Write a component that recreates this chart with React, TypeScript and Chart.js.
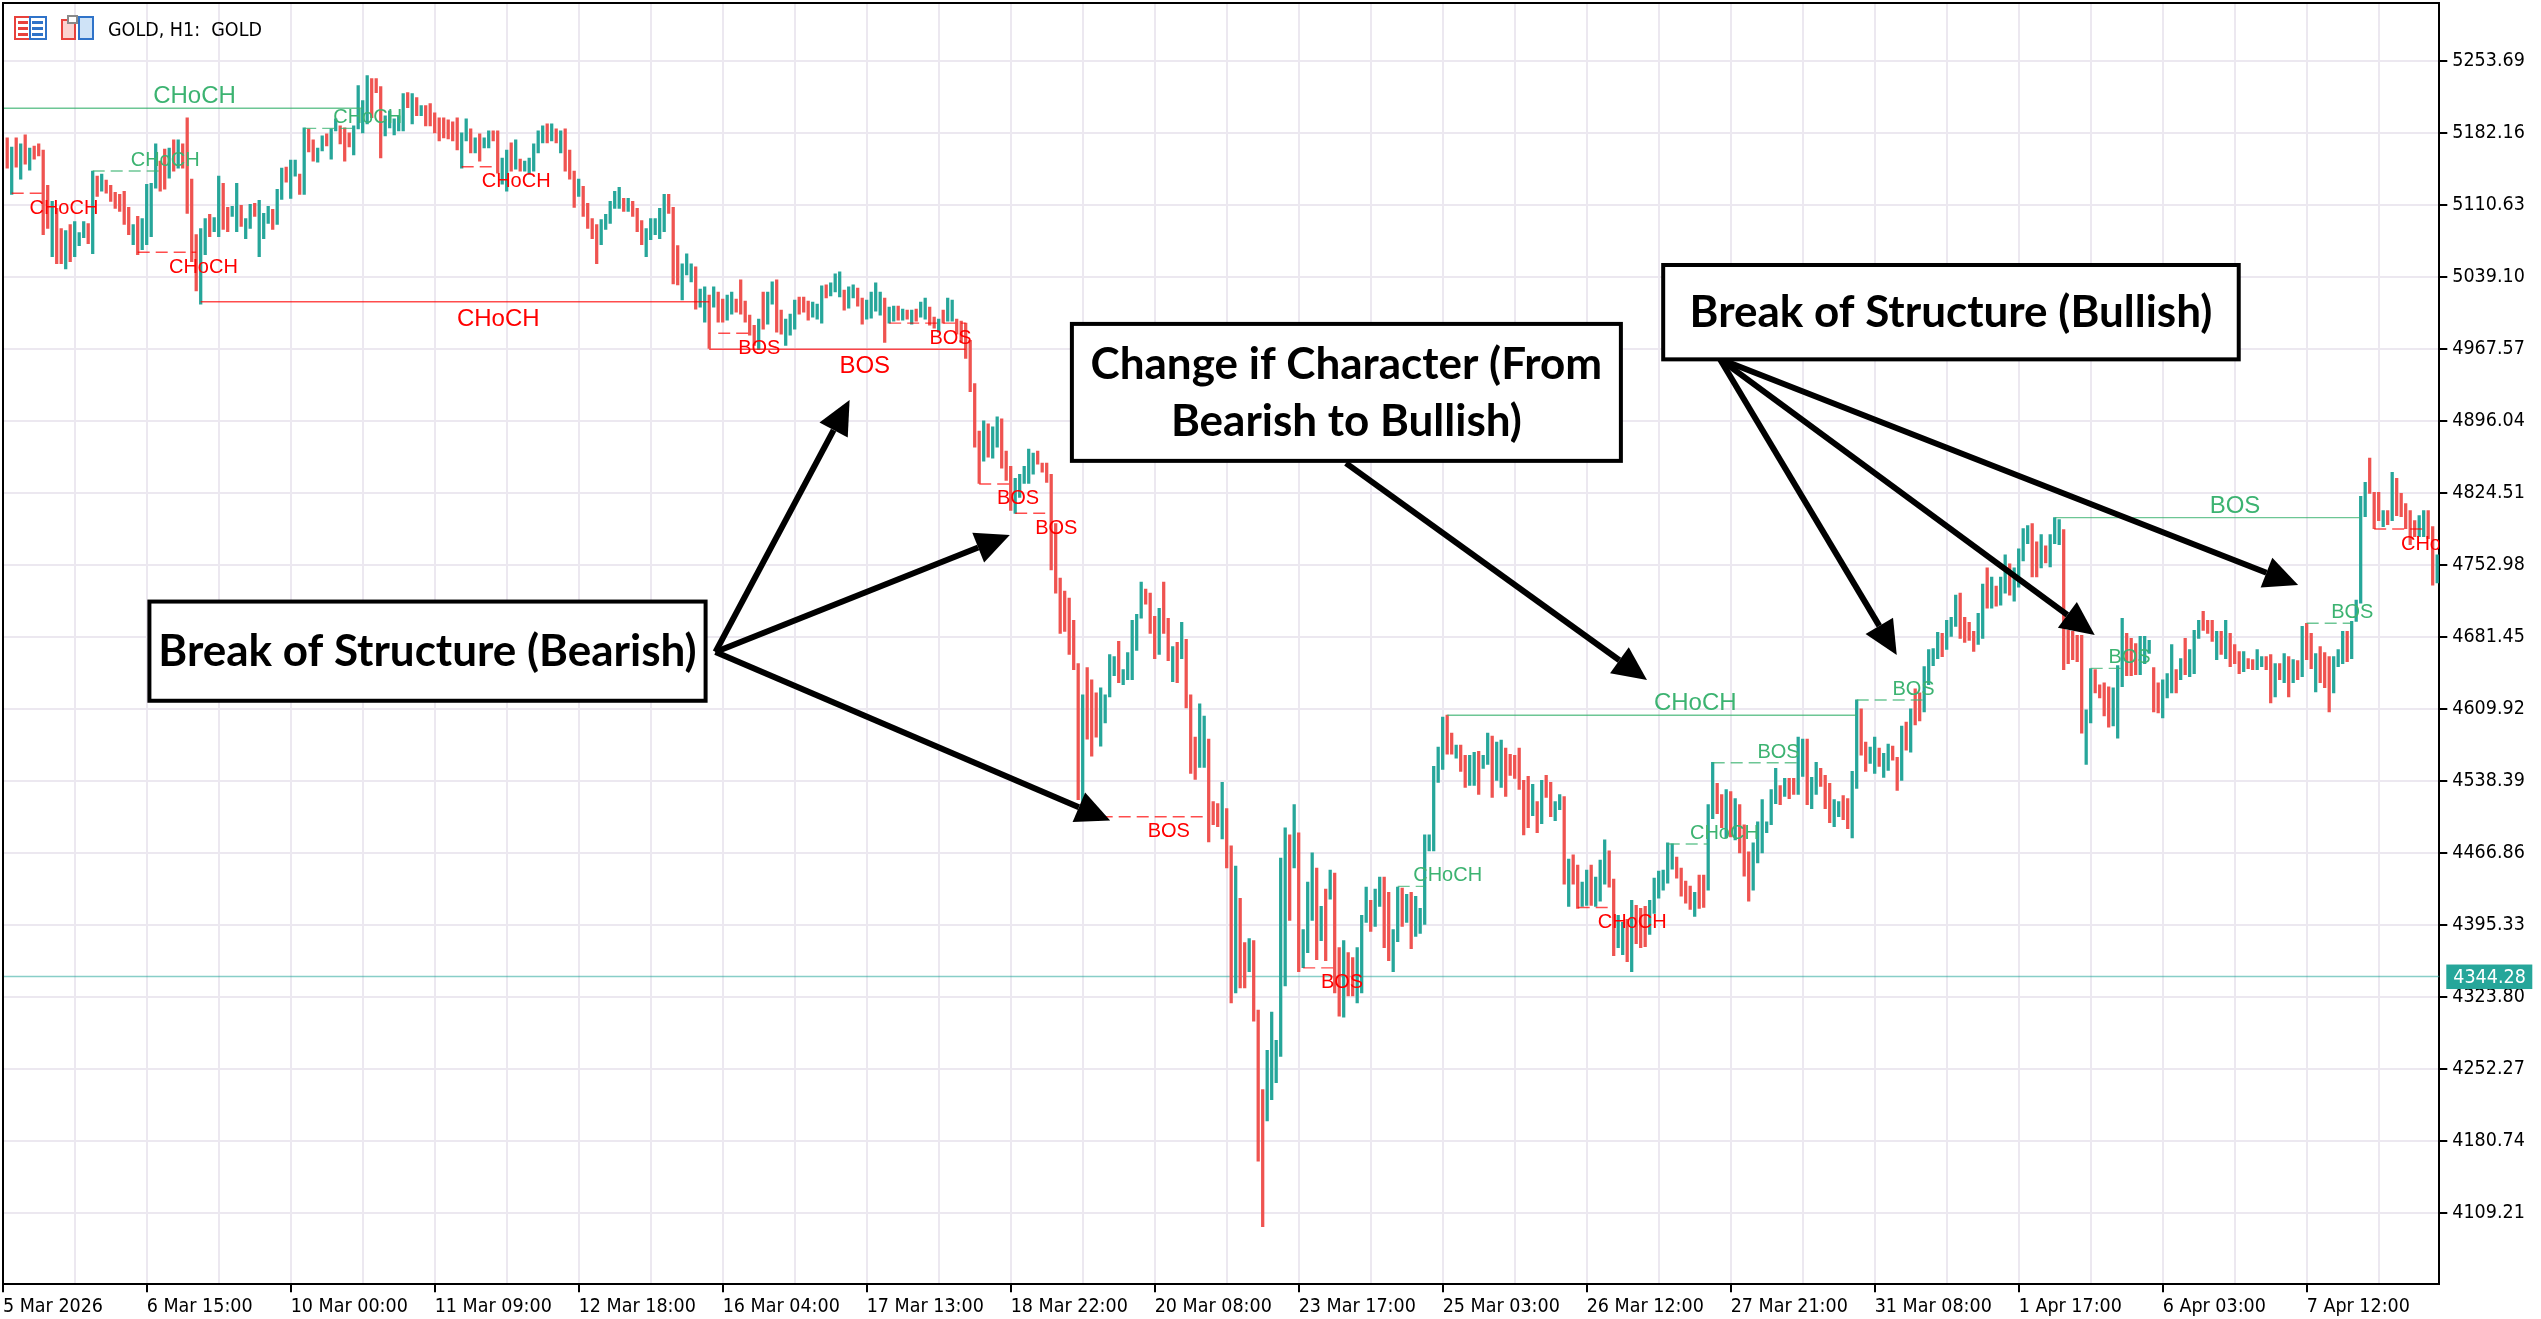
import { useEffect, useRef } from "react";
import { Chart, registerables } from "chart.js";

Chart.register(...registerables);

// time axis labels, one every 32 H1 bars (first one sits on the left edge)
const timeLabels = [
  "5 Mar 2026", "6 Mar 15:00", "10 Mar 00:00", "11 Mar 09:00", "12 Mar 18:00",
  "16 Mar 04:00", "17 Mar 13:00", "18 Mar 22:00", "20 Mar 08:00", "23 Mar 17:00",
  "25 Mar 03:00", "26 Mar 12:00", "27 Mar 21:00", "31 Mar 08:00", "1 Apr 17:00",
  "6 Apr 03:00", "7 Apr 12:00",
];

const priceTicks = [
  5253.69, 5182.16, 5110.63, 5039.1, 4967.57, 4896.04, 4824.51, 4752.98, 4681.45,
  4609.92, 4538.39, 4466.86, 4395.33, 4323.8, 4252.27, 4180.74, 4109.21,
];

const lastPrice = 4344.28;

// GOLD H1 bars (open / close)
const opens = [
  5177, 5121, 5177, 5136, 5180, 5145, 5169, 5171, 5165, 5130,
  5059, 5107, 5087, 5047, 5091, 5059, 5070, 5078, 5092, 5062,
  5139, 5124, 5135, 5130, 5123, 5121, 5124, 5108, 5071, 5099,
  5066, 5071, 5079, 5127, 5154, 5166, 5137, 5175, 5147, 5171,
  5197, 5136, 5081, 5012, 5061, 5101, 5084, 5079, 5132, 5108,
  5099, 5084, 5110, 5077, 5087, 5112, 5059, 5077, 5092, 5106,
  5091, 5116, 5148, 5117, 5139, 5141, 5121, 5186, 5175, 5153,
  5164, 5181, 5156, 5184, 5189, 5187, 5182, 5160, 5186, 5182,
  5191, 5236, 5236, 5228, 5179, 5187, 5180, 5184, 5184, 5222,
  5191, 5217, 5199, 5209, 5211, 5202, 5197, 5197, 5195, 5193,
  5197, 5147, 5174, 5186, 5162, 5181, 5167, 5167, 5184, 5184,
  5131, 5124, 5172, 5146, 5156, 5144, 5141, 5144, 5162, 5172,
  5191, 5174, 5186, 5162, 5186, 5165, 5144, 5119, 5129, 5112,
  5097, 5091, 5071, 5086, 5092, 5107, 5107, 5117, 5104, 5114,
  5107, 5095, 5059, 5076, 5081, 5077, 5084, 5121, 5108, 5070,
  5016, 5041, 5034, 5049, 5009, 4994, 5021, 5009, 5024, 5017,
  4996, 5002, 5017, 5036, 5015, 5001, 4991, 4967, 5024, 4992,
  5012, 5036, 5006, 4971, 4981, 4987, 5019, 5019, 5015, 4999,
  4997, 4993, 5031, 5020, 5024, 5019, 5026, 5008, 5018, 5028,
  5018, 4997, 4998, 5005, 5001, 5018, 4993, 4995, 5010, 4996,
  5006, 4992, 5007, 4999, 4997, 5009, 4999, 4984, 5006, 4995,
  4995, 4997, 4995, 4993, 4976, 4933, 4886, 4856, 4893, 4859,
  4870, 4898, 4866, 4851, 4804, 4820, 4834, 4834, 4843, 4866,
  4854, 4854, 4843, 4794, 4740, 4727, 4720, 4698, 4655, 4503,
  4651, 4639, 4626, 4573, 4596, 4622, 4643, 4677, 4634, 4639,
  4639, 4668, 4700, 4729, 4725, 4702, 4664, 4736, 4700, 4637,
  4676, 4660, 4679, 4624, 4582, 4552, 4552, 4580, 4518, 4516,
  4481, 4511, 4474, 4328, 4422, 4378, 4349, 4380, 4311, 4232,
  4201, 4222, 4239, 4265, 4335, 4485, 4452, 4487, 4353, 4368,
  4400, 4452, 4380, 4431, 4421, 4447, 4373, 4304, 4368, 4363,
  4318, 4328, 4398, 4420, 4394, 4414, 4443, 4428, 4349, 4379,
  4432, 4398, 4428, 4384, 4387, 4396, 4469, 4469, 4537, 4550,
  4604, 4586, 4561, 4574, 4564, 4534, 4534, 4568, 4551, 4555,
  4583, 4539, 4532, 4571, 4565, 4564, 4571, 4539, 4543, 4504,
  4518, 4496, 4544, 4537, 4499, 4510, 4523, 4414, 4465, 4455,
  4414, 4415, 4455, 4414, 4419, 4436, 4469, 4441, 4373, 4366,
  4401, 4349, 4415, 4412, 4414, 4386, 4407, 4422, 4430, 4437,
  4451, 4463, 4452, 4439, 4434, 4404, 4445, 4445, 4430, 4501,
  4536, 4525, 4482, 4528, 4480, 4515, 4495, 4468, 4430, 4457,
  4467, 4487, 4495, 4516, 4534, 4523, 4541, 4541, 4525, 4543,
  4580, 4511, 4525, 4551, 4544, 4536, 4493, 4503, 4524, 4521,
  4482, 4531, 4610, 4577, 4556, 4546, 4571, 4542, 4549, 4573,
  4562, 4539, 4597, 4567, 4630, 4626, 4607, 4634, 4653, 4660,
  4685, 4669, 4682, 4692, 4725, 4701, 4696, 4687, 4674, 4680,
  4750, 4710, 4732, 4713, 4725, 4754, 4717, 4731, 4757, 4774,
  4794, 4776, 4750, 4772, 4751, 4774, 4773, 4788, 4688, 4687,
  4683, 4683, 4555, 4596, 4649, 4634, 4636, 4632, 4593, 4581,
  4632, 4685, 4680, 4675, 4644, 4655, 4665, 4651, 4636, 4601,
  4621, 4626, 4649, 4639, 4680, 4642, 4645, 4680, 4707, 4698,
  4698, 4659, 4687, 4660, 4685, 4674, 4667, 4647, 4660, 4659,
  4649, 4652, 4662, 4664, 4622, 4655, 4636, 4662, 4636, 4658,
  4642, 4695, 4685, 4627, 4672, 4666, 4662, 4626, 4652, 4655,
  4687, 4660, 4697, 4715, 4801, 4859, 4825, 4825, 4791, 4807,
  4797, 4839, 4824, 4814, 4807, 4797, 4781, 4781, 4807, 4791,
  4735,
];

const closes = [
  5147, 5168, 5148, 5171, 5151, 5167, 5156, 5159, 5081, 5087,
  5114, 5052, 5052, 5085, 5054, 5094, 5083, 5094, 5072, 5144,
  5119, 5141, 5122, 5114, 5107, 5104, 5091, 5081, 5091, 5061,
  5097, 5131, 5132, 5171, 5124, 5126, 5167, 5144, 5175, 5147,
  5102, 5054, 5025, 5087, 5097, 5079, 5098, 5139, 5086, 5084,
  5109, 5132, 5089, 5097, 5111, 5099, 5115, 5102, 5109, 5086,
  5126, 5147, 5133, 5155, 5155, 5121, 5187, 5163, 5154, 5167,
  5179, 5169, 5186, 5196, 5171, 5154, 5168, 5189, 5229, 5214,
  5239, 5197, 5222, 5157, 5199, 5204, 5196, 5199, 5221, 5207,
  5221, 5199, 5209, 5189, 5189, 5182, 5174, 5177, 5176, 5174,
  5165, 5182, 5196, 5162, 5177, 5154, 5177, 5184, 5174, 5142,
  5157, 5165, 5144, 5175, 5144, 5154, 5157, 5171, 5184, 5189,
  5172, 5191, 5172, 5184, 5144, 5136, 5108, 5136, 5099, 5087,
  5077, 5052, 5096, 5101, 5114, 5124, 5128, 5104, 5117, 5099,
  5084, 5071, 5087, 5097, 5097, 5107, 5121, 5102, 5032, 5031,
  5052, 5062, 5052, 5007, 5027, 5029, 4968, 5029, 4994, 4994,
  5021, 5024, 5004, 5002, 4994, 4981, 4971, 4997, 4987, 5024,
  5034, 4984, 4982, 4997, 5002, 5016, 5002, 5004, 4996, 5014,
  5012, 5030, 5018, 5033, 5042, 5044, 5006, 5029, 5031, 5010,
  4992, 5016, 5024, 5033, 5024, 4974, 5009, 5010, 4996, 5007,
  4997, 5006, 4995, 5014, 5018, 4991, 4988, 4997, 4993, 5018,
  5016, 4982, 4974, 4958, 4925, 4870, 4834, 4896, 4860, 4890,
  4900, 4849, 4837, 4807, 4839, 4843, 4851, 4868, 4864, 4853,
  4845, 4835, 4748, 4725, 4685, 4687, 4664, 4649, 4520, 4624,
  4580, 4563, 4582, 4631, 4624, 4664, 4662, 4636, 4649, 4666,
  4698, 4704, 4736, 4714, 4685, 4660, 4710, 4685, 4658, 4672,
  4636, 4696, 4611, 4546, 4540, 4615, 4603, 4478, 4495, 4493,
  4537, 4452, 4318, 4454, 4333, 4333, 4382, 4300, 4161, 4096,
  4271, 4309, 4281, 4462, 4492, 4400, 4515, 4349, 4391, 4438,
  4467, 4361, 4414, 4360, 4450, 4328, 4305, 4380, 4325, 4325,
  4373, 4405, 4433, 4389, 4431, 4443, 4373, 4360, 4391, 4433,
  4394, 4426, 4372, 4424, 4412, 4485, 4485, 4553, 4572, 4602,
  4565, 4565, 4574, 4548, 4532, 4564, 4567, 4525, 4564, 4586,
  4522, 4577, 4579, 4523, 4544, 4541, 4530, 4485, 4492, 4535,
  4487, 4539, 4522, 4503, 4518, 4525, 4436, 4461, 4436, 4412,
  4438, 4450, 4415, 4443, 4460, 4480, 4433, 4365, 4405, 4398,
  4359, 4420, 4377, 4373, 4374, 4420, 4442, 4449, 4450, 4477,
  4476, 4442, 4424, 4417, 4411, 4428, 4412, 4413, 4515, 4557,
  4506, 4492, 4530, 4483, 4521, 4467, 4444, 4419, 4477, 4498,
  4520, 4498, 4530, 4551, 4515, 4541, 4521, 4525, 4582, 4580,
  4515, 4542, 4557, 4533, 4511, 4497, 4520, 4518, 4500, 4491,
  4548, 4619, 4564, 4548, 4572, 4582, 4553, 4566, 4575, 4559,
  4529, 4593, 4569, 4610, 4594, 4598, 4652, 4669, 4670, 4686,
  4662, 4698, 4701, 4723, 4680, 4676, 4678, 4667, 4705, 4734,
  4710, 4741, 4712, 4741, 4763, 4723, 4750, 4769, 4789, 4792,
  4741, 4741, 4783, 4755, 4783, 4800, 4798, 4649, 4655, 4659,
  4657, 4586, 4609, 4650, 4626, 4621, 4603, 4592, 4631, 4653,
  4700, 4643, 4643, 4644, 4682, 4682, 4678, 4607, 4606, 4639,
  4645, 4674, 4626, 4660, 4644, 4669, 4688, 4698, 4688, 4685,
  4677, 4687, 4664, 4698, 4652, 4655, 4645, 4667, 4650, 4649,
  4669, 4662, 4649, 4616, 4655, 4639, 4665, 4622, 4659, 4639,
  4692, 4659, 4650, 4665, 4636, 4631, 4607, 4662, 4669, 4687,
  4657, 4697, 4718, 4821, 4835, 4824, 4789, 4797, 4807, 4793,
  4845, 4802, 4801, 4789, 4773, 4781, 4802, 4807, 4779, 4733,
  4763,
];

// market structure breaks: from swing bar to break bar, at the swing level
const structStart = [-15, 1, 19, 29, 43, 66, 101, 158, 156, 196, 216, 224, 239, 288, 309, 320, 349, 369, 379, 411, 455, 463, 511, 526];
const structEnd = [79, 8, 35, 42, 156, 78, 109, 166, 213, 213, 223, 232, 267, 295, 315, 411, 357, 378, 398, 426, 523, 470, 521, 537];
const structLevel = [
  5206.4, 5122.0, 5144.1, 5063.4, 5014.3, 5186.5, 5148.4, 4983.0, 4967.1, 4993.1, 4833.4, 4804.3,
  4502.9, 4352.9, 4433.8, 4603.7, 4412.8, 4475.9, 4556.6, 4618.9, 4799.9, 4650.3, 4695.0, 4788.6,
];
const structText = [
  "CHoCH", "CHoCH", "CHoCH", "CHoCH", "CHoCH", "CHoCH", "CHoCH", "BOS", "BOS", "BOS", "BOS", "BOS",
  "BOS", "BOS", "CHoCH", "CHoCH", "CHoCH", "CHoCH", "BOS", "BOS", "BOS", "BOS", "BOS", "CHoCH",
];
const structBull = [1, 0, 1, 0, 0, 1, 0, 0, 0, 0, 0, 0, 0, 0, 1, 1, 0, 1, 1, 1, 1, 1, 1, 0];
const structMajor = [1, 0, 0, 0, 1, 0, 0, 0, 1, 0, 0, 0, 0, 0, 0, 1, 0, 0, 0, 0, 1, 0, 0, 0];

// callout boxes (bar index / price corners) and their text
const noteLeft = [31.6, 236.6, 368.0];
const noteRight = [155.2, 358.6, 495.9];
const noteTop = [4716.6, 4992.3, 5050.8];
const noteBottom = [4618.1, 4856.3, 4957.1];
const noteLines = [
  ["Break of Structure (Bearish)"],
  ["Change if Character (From", "Bearish to Bullish)"],
  ["Break of Structure (Bullish)"],
];

// arrows (bar index / price)
const arrowFromBar = [157.4, 157.4, 157.4, 297.5, 380.6, 380.6, 380.6];
const arrowFromPrice = [4666.6, 4666.6, 4666.6, 4854.1, 4957.4, 4957.4, 4957.4];
const arrowToBar = [187.2, 222.8, 245.1, 364.4, 419.9, 463.9, 509.1];
const arrowToPrice = [4916.7, 4782.7, 4499.1, 4638.6, 4663.5, 4683.3, 4733.0];

const BULL = "#26A69A";
const BEAR = "#EF5350";
const GRID = "#ECE8F0";
const AXIS_FONT = "'DejaVu Sans Condensed', 'DejaVu Sans', sans-serif";

const X_MIN = -0.9333;
const X_MAX = 540.47;
const Y_MIN = 4038.67;
const Y_MAX = 5310.95;
const BARS_PER_GRID = 16;
const BARS_PER_LABEL = 32;

const isLabelTick = (v: number) => v === X_MIN || (v + 1) % BARS_PER_LABEL === 0;

function drawArrow(ctx: CanvasRenderingContext2D, x0: number, y0: number, x1: number, y1: number) {
  const ang = Math.atan2(y1 - y0, x1 - x0);
  const headLen = 34;
  const half = 16;
  const bx = x1 - headLen * Math.cos(ang);
  const by = y1 - headLen * Math.sin(ang);
  ctx.lineWidth = 6;
  ctx.beginPath();
  ctx.moveTo(x0, y0);
  ctx.lineTo(bx, by);
  ctx.stroke();
  ctx.beginPath();
  ctx.moveTo(x1, y1);
  ctx.lineTo(bx + half * Math.sin(ang), by - half * Math.cos(ang));
  ctx.lineTo(bx - half * Math.sin(ang), by + half * Math.cos(ang));
  ctx.closePath();
  ctx.fill();
}

const overlay = {
  id: "smcOverlay",
  beforeDatasetsDraw(chart: any) {
    const { ctx, chartArea: a, scales } = chart;
    const py = scales.y.getPixelForValue(lastPrice);
    ctx.save();
    ctx.strokeStyle = "rgba(38,166,154,0.55)";
    ctx.lineWidth = 1.5;
    ctx.beginPath();
    ctx.moveTo(a.left, py);
    ctx.lineTo(a.right, py);
    ctx.stroke();
    ctx.restore();
  },
  afterDatasetsDraw(chart: any) {
    const { ctx, chartArea: a, scales } = chart;
    const x = scales.x;
    const y = scales.y;
    ctx.save();
    ctx.beginPath();
    ctx.rect(a.left, a.top, a.right - a.left, a.bottom - a.top);
    ctx.clip();

    // structure lines + labels
    for (let i = 0; i < structLevel.length; i++) {
      const xs = x.getPixelForValue(structStart[i]);
      const xe = x.getPixelForValue(structEnd[i]);
      const yy = y.getPixelForValue(structLevel[i]);
      const bull = structBull[i] === 1;
      const major = structMajor[i] === 1;
      ctx.strokeStyle = bull ? "rgba(60,179,113,0.75)" : "rgba(255,0,0,0.7)";
      ctx.lineWidth = 1.4;
      ctx.setLineDash(major ? [] : [12, 6]);
      ctx.beginPath();
      ctx.moveTo(xs, yy);
      ctx.lineTo(xe, yy);
      ctx.stroke();
      ctx.setLineDash([]);
      ctx.font = `${major ? 24 : 20}px 'Liberation Sans', Arial, sans-serif`;
      ctx.fillStyle = bull ? "#3CB371" : "#FF0000";
      ctx.textAlign = "left";
      ctx.textBaseline = "alphabetic";
      const lx = x.getPixelForValue((structStart[i] + structEnd[i]) / 2) + 2;
      const ly = bull ? yy - 5 : yy + (major ? 24 : 20.5);
      ctx.fillText(structText[i], lx, ly);
    }

    // arrows
    ctx.strokeStyle = "#000";
    ctx.fillStyle = "#000";
    for (let i = 0; i < arrowToBar.length; i++) {
      drawArrow(
        ctx,
        x.getPixelForValue(arrowFromBar[i]),
        y.getPixelForValue(arrowFromPrice[i]),
        x.getPixelForValue(arrowToBar[i]),
        y.getPixelForValue(arrowToPrice[i])
      );
    }

    // callout boxes
    for (let i = 0; i < noteLines.length; i++) {
      const l = x.getPixelForValue(noteLeft[i]);
      const r = x.getPixelForValue(noteRight[i]);
      const t = y.getPixelForValue(noteTop[i]);
      const b = y.getPixelForValue(noteBottom[i]);
      ctx.fillStyle = "#fff";
      ctx.fillRect(l, t, r - l, b - t);
      ctx.strokeStyle = "#000";
      ctx.lineWidth = 4;
      ctx.strokeRect(l, t, r - l, b - t);
      ctx.fillStyle = "#000";
      ctx.font = "bold 44px Lato, 'Open Sans', sans-serif";
      ctx.textAlign = "center";
      ctx.textBaseline = "middle";
      const lines = noteLines[i];
      const cy = (t + b) / 2;
      lines.forEach((s, k) => ctx.fillText(s, (l + r) / 2, cy + 1 + (k - (lines.length - 1) / 2) * 57));
    }
    ctx.restore();

    // frame (top + left)
    ctx.save();
    ctx.strokeStyle = "#000";
    ctx.lineWidth = 2;
    ctx.beginPath();
    ctx.moveTo(a.left, a.bottom);
    ctx.lineTo(a.left, a.top);
    ctx.lineTo(a.right, a.top);
    ctx.stroke();

    // header: icons + symbol text
    ctx.lineWidth = 2;
    ctx.strokeStyle = "#E8413C";
    ctx.strokeRect(15, 17, 15, 22);
    ctx.strokeStyle = "#2F73C9";
    ctx.strokeRect(30, 17, 16, 22);
    for (let k = 0; k < 3; k++) {
      ctx.fillStyle = "#E8413C";
      ctx.fillRect(18, 21 + k * 6, 10, 3);
      ctx.fillStyle = "#2F73C9";
      ctx.fillRect(32, 21 + k * 6, 11, 3);
    }
    ctx.fillStyle = "#FBD3D0";
    ctx.fillRect(62, 20, 13, 19);
    ctx.strokeStyle = "#E8413C";
    ctx.strokeRect(62, 20, 13, 19);
    ctx.fillStyle = "#CFE3F7";
    ctx.fillRect(79, 17, 14, 22);
    ctx.strokeStyle = "#2F73C9";
    ctx.strokeRect(79, 17, 14, 22);
    ctx.fillStyle = "#fff";
    ctx.fillRect(68, 16, 9, 7);
    ctx.strokeStyle = "#8A8A8A";
    ctx.strokeRect(68, 16, 9, 7);
    ctx.fillStyle = "#000";
    ctx.font = `19.5px ${AXIS_FONT}`;
    ctx.textAlign = "left";
    ctx.textBaseline = "alphabetic";
    ctx.fillText("GOLD, H1:  GOLD", 108, 36);
    ctx.restore();
  },
  afterDraw(chart: any) {
    const { ctx, chartArea: a, scales } = chart;
    const py = scales.y.getPixelForValue(lastPrice);
    ctx.save();
    ctx.fillStyle = BULL;
    ctx.fillRect(a.right + 7, py - 12, 86, 24.5);
    ctx.fillStyle = "#fff";
    ctx.font = `19.5px ${AXIS_FONT}`;
    ctx.textAlign = "left";
    ctx.textBaseline = "middle";
    ctx.fillText(lastPrice.toFixed(2), a.right + 14, py + 1);
    ctx.restore();
  },
};

export default function App() {
  const chartRef = useRef<HTMLCanvasElement>(null);
  const chartInstance = useRef<Chart | null>(null);

  useEffect(() => {
    if (!chartRef.current) return;
    if (chartInstance.current) {
      chartInstance.current.destroy();
    }
    const ctx = chartRef.current.getContext("2d");
    if (!ctx) return;

    const xTickValues: number[] = [X_MIN];
    for (let v = BARS_PER_GRID - 1; v <= X_MAX; v += BARS_PER_GRID) xTickValues.push(v);

    chartInstance.current = new Chart(ctx, {
      type: "bar",
      data: {
        datasets: [
          {
            data: opens.map((o, i) => ({ x: i, y: [o, closes[i]] })) as any,
            backgroundColor: opens.map((o, i) => (closes[i] >= o ? BULL : BEAR)),
            barThickness: 2.6,
            borderWidth: 0,
            borderSkipped: false,
          },
        ],
      },
      options: {
        animation: false,
        responsive: true,
        maintainAspectRatio: false,
        events: [],
        layout: { padding: { left: 3, top: 3, right: 0, bottom: 0 } },
        plugins: {
          legend: { display: false },
          tooltip: { enabled: false },
        },
        scales: {
          x: {
            type: "linear",
            min: X_MIN,
            max: X_MAX,
            offset: false,
            afterBuildTicks: (scale: any) => {
              scale.ticks = xTickValues.map((v) => ({ value: v }));
            },
            afterFit: (scale: any) => {
              scale.height = 34.7;
              scale.paddingLeft = 0;
              scale.paddingRight = 0;
            },
            grid: {
              offset: false,
              color: (c: any) => (c.tick && c.tick.value === X_MIN ? "rgba(0,0,0,0)" : GRID),
              lineWidth: 2,
              tickColor: (c: any) => (c.tick && isLabelTick(c.tick.value) ? "#000" : "rgba(0,0,0,0)"),
              tickLength: 8,
              tickWidth: 2,
            },
            border: { display: true, color: "#000", width: 2 },
            ticks: {
              autoSkip: false,
              maxRotation: 0,
              minRotation: 0,
              align: "start",
              padding: 3,
              color: "#000",
              font: { family: AXIS_FONT, size: 19.5 },
              callback: (v: any) => {
                const n = Number(v);
                if (n === X_MIN) return timeLabels[0];
                if ((n + 1) % BARS_PER_LABEL === 0) return timeLabels[(n + 1) / BARS_PER_LABEL] ?? "";
                return "";
              },
            },
          },
          y: {
            type: "linear",
            position: "right",
            min: Y_MIN,
            max: Y_MAX,
            afterBuildTicks: (scale: any) => {
              scale.ticks = priceTicks.map((v) => ({ value: v }));
            },
            afterFit: (scale: any) => {
              scale.width = 101.7;
              scale.paddingTop = 0;
              scale.paddingBottom = 0;
            },
            grid: {
              color: GRID,
              lineWidth: 2,
              tickColor: "#000",
              tickLength: 8,
              tickWidth: 2,
            },
            border: { display: true, color: "#000", width: 2 },
            ticks: {
              padding: 5,
              color: "#000",
              font: { family: AXIS_FONT, size: 19.5 },
              callback: (v: any) => Number(v).toFixed(2),
            },
          },
        },
      },
      plugins: [overlay],
    });

    return () => {
      if (chartInstance.current) {
        chartInstance.current.destroy();
        chartInstance.current = null;
      }
    };
  }, []);

  return (
    <div style={{ position: "fixed", left: 0, top: 0, width: "100vw", height: "100vh", background: "#fff" }}>
      <canvas ref={chartRef} />
    </div>
  );
}
